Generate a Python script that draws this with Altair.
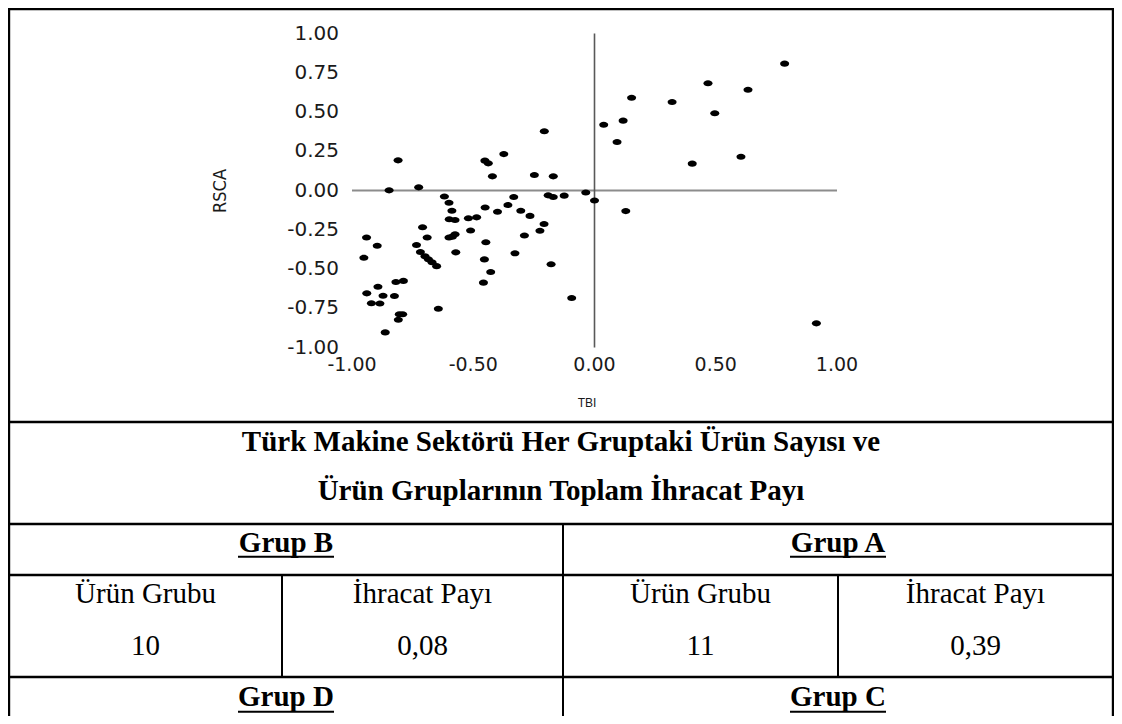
import altair as alt
import pandas as pd

# ---------------- data ----------------
tbi = [-0.810, -0.847, -0.725, -0.452, -0.438, -0.374, -0.421, -0.207, -0.248, -0.170,
       0.784, 0.468, 0.633, 0.153, 0.320, 0.496, 0.118, 0.038, 0.093, 0.403, 0.604,
       -0.619, -0.333, -0.191, -0.170, -0.125, -0.036, 0.000, 0.129,
       0.915, -0.094, -0.179, -0.208, -0.225,
       -0.600, -0.588, -0.599, -0.575, -0.520, -0.486, -0.451, -0.400, -0.357, -0.304, -0.266,
       -0.289, -0.328, -0.511, -0.448, -0.454, -0.428, -0.458, -0.600, -0.586, -0.575, -0.572,
       -0.709, -0.690, -0.734, -0.718, -0.699, -0.685, -0.670, -0.651, -0.644,
       -0.940, -0.896, -0.951, -0.819, -0.788, -0.893, -0.939, -0.872, -0.825, -0.920, -0.885,
       -0.805, -0.791, -0.809, -0.863]
rsca = [0.192, 0.001, 0.020, 0.190, 0.173, 0.232, 0.090, 0.377, 0.099, 0.090,
        0.808, 0.683, 0.642, 0.591, 0.564, 0.492, 0.445, 0.419, 0.309, 0.171, 0.215,
        -0.038, -0.041, -0.031, -0.041, -0.033, -0.013, -0.064, -0.131,
        -0.846, -0.685, -0.470, -0.213, -0.256,
        -0.078, -0.129, -0.183, -0.188, -0.177, -0.171, -0.108, -0.135, -0.092, -0.129, -0.162,
        -0.287, -0.400, -0.255, -0.330, -0.439, -0.519, -0.587, -0.299, -0.294, -0.279, -0.394,
        -0.234, -0.299, -0.347, -0.392, -0.419, -0.438, -0.457, -0.482, -0.753,
        -0.299, -0.352, -0.428, -0.583, -0.576, -0.613, -0.655, -0.670, -0.672, -0.718, -0.720,
        -0.788, -0.788, -0.823, -0.904]

y_ticks = [-1.0, -0.75, -0.5, -0.25, 0.0, 0.25, 0.5, 0.75, 1.0]
y_tick_labels = ["-1.00", "-0.75", "-0.50", "-0.25", "0.00", "0.25", "0.50", "0.75", "1.00"]
x_ticks = [-1.0, -0.5, 0.0, 0.5, 1.0]
x_tick_labels = ["-1.00", "-0.50", "0.00", "0.50", "1.00"]
x_title = "TBI"
y_title = "RSCA"

title_lines = ["Türk Makine Sektörü Her Gruptaki Ürün Sayısı ve",
               "Ürün Gruplarının Toplam İhracat Payı"]
groups_top = ["Grup B", "Grup A"]
groups_bottom = ["Grup D", "Grup C"]
sub_headers = ["Ürün Grubu", "İhracat Payı", "Ürün Grubu", "İhracat Payı"]
sub_values = ["10", "0,08", "11", "0,39"]

# ---------------- layout (canvas pixels) ----------------
W, H = 1106, 708
XR = [344, 829]
YR = [339.5, 25.5]
xs = alt.Scale(domain=[-1, 1], range=XR)
ys = alt.Scale(domain=[-1, 1], range=YR)

col_edges = [1, 274, 555, 830, 1105]
half_centers = [(col_edges[0] + col_edges[2]) / 2, (col_edges[2] + col_edges[4]) / 2]
quarter_centers = [(col_edges[i] + col_edges[i + 1]) / 2 for i in range(4)]
row_lines = [414, 516, 567, 669]
SERIF = "Liberation Serif, Times New Roman, serif"

ELLIPSE = "M-1,0A1,0.68,0,1,0,1,0A1,0.68,0,1,0,-1,0Z"

# ---------------- scatter ----------------
pts = pd.DataFrame({"TBI": tbi, "RSCA": rsca})
points = alt.Chart(pts).mark_point(
    shape=ELLIPSE, filled=True, size=81, color="black", opacity=1, strokeWidth=0
).encode(
    x=alt.X("TBI:Q", scale=xs, axis=None),
    y=alt.Y("RSCA:Q", scale=ys, axis=None),
)

hline = alt.Chart(pd.DataFrame({"a": [-1.0], "b": [1.0], "c": [0.0]})).mark_rule(
    color="#8c8c8c", strokeWidth=2
).encode(
    x=alt.X("a:Q", scale=xs, axis=None), x2="b:Q", y=alt.Y("c:Q", scale=ys, axis=None)
)
vline = alt.Chart(pd.DataFrame({"a": [-1.0], "b": [1.0], "c": [0.0]})).mark_rule(
    color="#595959", strokeWidth=1.6
).encode(
    y=alt.Y("a:Q", scale=ys, axis=None), y2="b:Q", x=alt.X("c:Q", scale=xs, axis=None)
)

ylab = alt.Chart(pd.DataFrame({"v": y_ticks, "t": y_tick_labels})).mark_text(
    align="right", baseline="middle", font="DejaVu Sans", fontSize=20, color="#1a1a1a"
).encode(
    x=alt.value(331), y=alt.Y("v:Q", scale=ys, axis=None), text="t:N"
)
xlab = alt.Chart(pd.DataFrame({"v": x_ticks, "t": x_tick_labels})).mark_text(
    align="center", baseline="middle", font="DejaVu Sans", fontSize=19, color="#1a1a1a"
).encode(
    x=alt.X("v:Q", scale=xs, axis=None), y=alt.value(357), text="t:N"
)
ytitle = alt.Chart(pd.DataFrame({"t": [y_title]})).mark_text(
    angle=270, align="center", baseline="middle",
    font="Liberation Sans Narrow, DejaVu Sans Condensed, Arial Narrow, sans-serif",
    fontSize=18, color="#1a1a1a"
).encode(x=alt.value(213), y=alt.value(183), text="t:N")
xtitle = alt.Chart(pd.DataFrame({"t": [x_title]})).mark_text(
    align="center", baseline="middle", font="Liberation Sans, Arial, sans-serif",
    fontSize=12, color="#1a1a1a"
).encode(x=alt.value(579), y=alt.value(395), text="t:N")

# ---------------- table ----------------
thick = pd.DataFrame({
    "x1": [0, 1, 1105] + [0] * len(row_lines),
    "x2": [1106, 1, 1105] + [1106] * len(row_lines),
    "y1": [1, 0, 0] + row_lines,
    "y2": [1, 708, 708] + row_lines,
})
thick_lines = alt.Chart(thick).mark_rule(color="black", strokeWidth=2.4).encode(
    x=alt.X("x1:Q", scale=None), x2="x2:Q", y=alt.Y("y1:Q", scale=None), y2="y2:Q"
)
thin = pd.DataFrame({
    "x1": [col_edges[2], col_edges[1], col_edges[3]],
    "y1": [row_lines[1], row_lines[2], row_lines[2]],
    "y2": [H, row_lines[3], row_lines[3]],
})
thin_lines = alt.Chart(thin).mark_rule(color="black", strokeWidth=2).encode(
    x=alt.X("x1:Q", scale=None), y=alt.Y("y1:Q", scale=None), y2="y2:Q"
)

title_df = pd.DataFrame({"t": title_lines, "y": [443, 492]})
title_txt = alt.Chart(title_df).mark_text(
    align="center", baseline="alphabetic", font=SERIF, fontWeight="bold",
    fontSize=29, color="black"
).encode(x=alt.value((col_edges[0] + col_edges[4]) / 2), y=alt.Y("y:Q", scale=None), text="t:N")

grp_df = pd.DataFrame({
    "t": groups_top + groups_bottom,
    "x": half_centers + half_centers,
    "y": [543.7, 543.7, 698, 698],
})
grp_txt = alt.Chart(grp_df).mark_text(
    align="center", baseline="alphabetic", font=SERIF, fontWeight="bold",
    fontSize=29, color="black"
).encode(x=alt.X("x:Q", scale=None), y=alt.Y("y:Q", scale=None), text="t:N")

ul_df = pd.DataFrame({
    "x1": [c - 48 for c in half_centers] * 2,
    "x2": [c + 48 for c in half_centers] * 2,
    "y": [548.7, 548.7, 703.7, 703.7],
})
underline = alt.Chart(ul_df).mark_rule(color="black", strokeWidth=2).encode(
    x=alt.X("x1:Q", scale=None), x2="x2:Q", y=alt.Y("y:Q", scale=None)
)

cell_df = pd.DataFrame({
    "t": sub_headers + sub_values,
    "x": quarter_centers + quarter_centers,
    "y": [594.7] * 4 + [647] * 4,
})
cell_txt = alt.Chart(cell_df).mark_text(
    align="center", baseline="alphabetic", font=SERIF, fontSize=29, color="black"
).encode(x=alt.X("x:Q", scale=None), y=alt.Y("y:Q", scale=None), text="t:N")

chart = alt.layer(
    hline, vline, points, ylab, xlab, ytitle, xtitle,
    thick_lines, thin_lines, title_txt, grp_txt, underline, cell_txt
).resolve_scale(x="independent", y="independent").properties(
    width=W, height=H, autosize=alt.AutoSizeParams(type="none"), padding=0
).configure_view(stroke=None)

chart.save("out.html", embed_options={"renderer": "svg", "actions": False})
